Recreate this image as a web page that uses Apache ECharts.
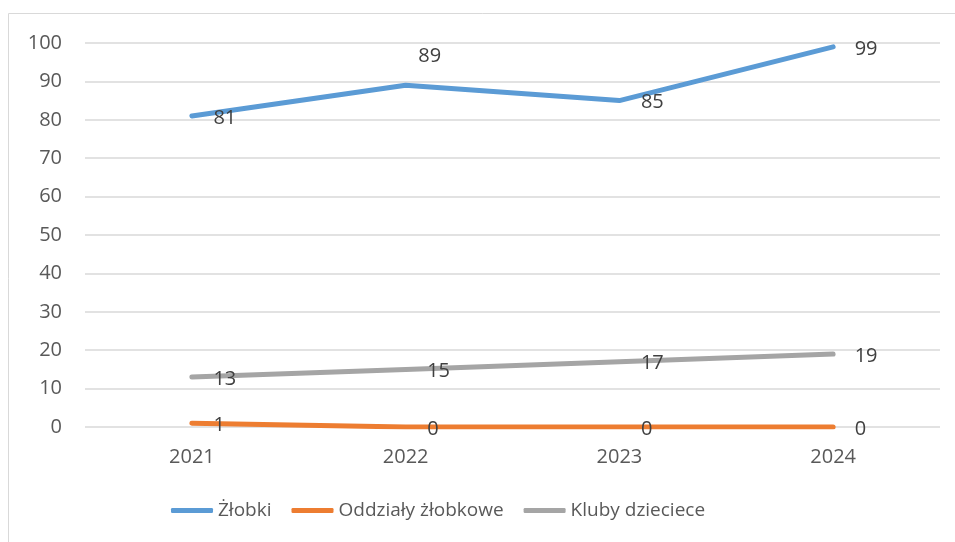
<!DOCTYPE html>
<html>
<head>
<meta charset="utf-8">
<script src="https://cdn.jsdelivr.net/npm/echarts@6/dist/echarts.min.js"></script>
<style>
  html, body { margin: 0; padding: 0; background: #fff; }
  #chart { width: 955px; height: 542px; }
</style>
</head>
<body>
<div id="chart"></div>
<script>
// Data
const years = ['2021', '2022', '2023', '2024'];
const zlobki = [81, 89, 85, 99];
const oddzialy = [1, 0, 0, 0];
const kluby = [13, 15, 17, 19];
const seriesNames = ['Żłobki', 'Oddziały żłobkowe', 'Kluby dzieciece'];
const colors = ['#5B9BD5', '#ED7D31', '#A5A5A5'];

const font = '"Open Sans", "Noto Sans", sans-serif';

// Excel style labels: to the right of the point, except one above
const rightLabel = {
    show: true,
    position: 'right',
    distance: 21,
    offset: [0, 2],
    color: '#404040',
    fontSize: 20,
    fontFamily: font
};

const makeSeries = (name, values, color, labelOverrides) => ({
    name: name,
    type: 'line',
    data: values.map((v, i) => labelOverrides && labelOverrides[i]
        ? { value: v, label: labelOverrides[i] }
        : v),
    // tiny transparent symbols so the data labels get drawn
    symbol: 'circle',
    symbolSize: 1,
    showSymbol: true,
    lineStyle: { width: 5, color: color, cap: 'round' },
    itemStyle: { color: 'rgba(0,0,0,0)' },
    label: rightLabel,
    z: 3
});

const chart = echarts.init(document.getElementById('chart'));

chart.setOption({
    animation: false,
    color: colors,
    graphic: [{
        type: 'rect',
        shape: { x: 8.5, y: 13.5, width: 960, height: 540 },
        style: { fill: 'none', stroke: '#d9d9d9', lineWidth: 1 },
        silent: true
    }],
    grid: {
        left: 85,
        right: 15,
        top: 43,
        bottom: 115
    },
    legend: {
        bottom: 17,
        left: 166,
        icon: 'roundRect',
        itemWidth: 42,
        itemHeight: 5,
        itemGap: 20,
        textStyle: { color: '#595959', fontSize: 19, fontFamily: font },
        data: seriesNames.map((n, i) => ({
            name: n,
            itemStyle: { color: colors[i], opacity: 1 }
        }))
    },
    xAxis: {
        type: 'category',
        data: years,
        boundaryGap: true,
        axisLine: { show: false },
        axisTick: { show: false },
        axisLabel: {
            color: '#595959',
            fontSize: 20,
            fontFamily: font,
            margin: 20
        }
    },
    yAxis: {
        type: 'value',
        min: 0,
        max: 100,
        interval: 10,
        axisLine: { show: false },
        axisTick: { show: false },
        axisLabel: {
            color: '#595959',
            fontSize: 20,
            fontFamily: font,
            margin: 23
        },
        splitLine: { lineStyle: { color: '#d9d9d9', width: 1.5 } }
    },
    series: [
        makeSeries(seriesNames[0], zlobki, colors[0], {
            1: { show: true, position: 'top', distance: 18, offset: [24, 0] }
        }),
        makeSeries(seriesNames[1], oddzialy, colors[1]),
        makeSeries(seriesNames[2], kluby, colors[2])
    ]
});

window.addEventListener('resize', () => chart.resize());
</script>
</body>
</html>
